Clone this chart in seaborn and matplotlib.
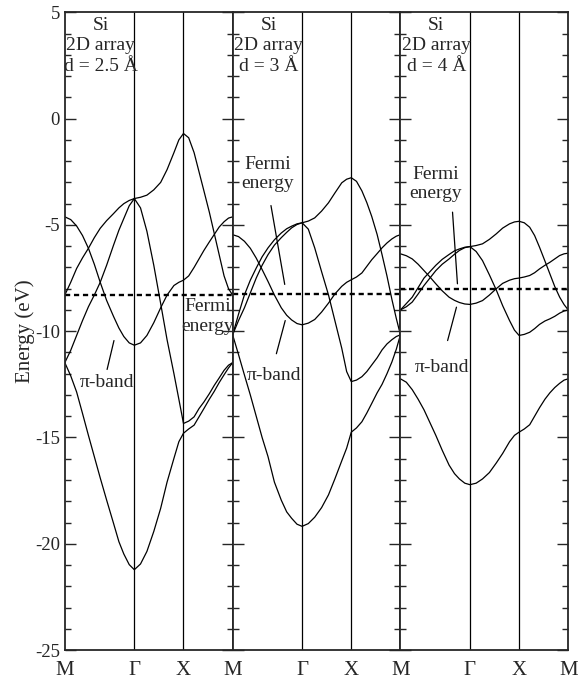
import pandas as pd
import seaborn as sns
import matplotlib.pyplot as plt
from matplotlib.ticker import MultipleLocator

# k-path along M - Gamma - X - M (square lattice, units of pi/a)
k_path = [0, 0.12, 0.24, 0.36, 0.48, 0.6, 0.72, 0.85, 0.99, 1.1, 1.2, 1.31, 1.414,
          1.54, 1.67, 1.81, 1.95, 2.08, 2.22, 2.32, 2.414,
          2.52, 2.63, 2.73, 2.83, 2.94, 3.04, 3.14, 3.24, 3.33, 3.414]
sym_pos = [0, 1.414, 2.414, 3.414]
sym_labels = ['M', 'Γ', 'X', 'M']

# d = 2.5 A
d25_pi = [-4.62, -4.75, -5.05, -5.5, -6.1, -6.85, -7.7, -8.55, -9.3, -9.85, -10.25, -10.55, -10.66,
          -10.55, -10.2, -9.6, -8.9, -8.3, -7.85, -7.7, -7.6,
          -7.4, -7.0, -6.6, -6.2, -5.8, -5.45, -5.1, -4.85, -4.68, -4.62]
d25_up = [-8.3, -7.7, -7.05, -6.55, -6.1, -5.6, -5.16, -4.8, -4.47, -4.2, -4.0, -3.85, -3.76,
          -3.7, -3.6, -3.35, -3.0, -2.4, -1.6, -1.0, -0.7,
          -0.9, -1.6, -2.5, -3.4, -4.4, -5.4, -6.4, -7.4, -8.0, -8.3]
d25_st = [-11.48, -10.9, -10.2, -9.5, -8.85, -8.3, -7.7, -6.9, -5.96, -5.25, -4.7, -4.1, -3.76,
          -4.2, -5.3, -6.9, -8.7, -10.4, -12.0, -13.2, -14.34,
          -14.23, -14.03, -13.64, -13.33, -12.94, -12.55, -12.2, -11.84, -11.6, -11.48]
d25_lo = [-11.48, -12.1, -12.86, -13.87, -14.9, -15.9, -16.9, -17.94, -19.03, -19.9, -20.48, -20.98, -21.22,
          -20.95, -20.36, -19.42, -18.33, -17.1, -15.98, -15.2, -14.8,
          -14.6, -14.42, -14.03, -13.64, -13.2, -12.83, -12.42, -12.05, -11.73, -11.48]

# d = 3 A
d3_pi = [-5.46, -5.55, -5.77, -6.1, -6.56, -7.1, -7.66, -8.3, -8.9, -9.25, -9.47, -9.64, -9.7,
         -9.62, -9.45, -9.1, -8.68, -8.25, -7.89, -7.7, -7.58,
         -7.45, -7.26, -6.95, -6.64, -6.35, -6.08, -5.85, -5.66, -5.53, -5.46]
d3_up = [-10.17, -9.2, -8.29, -7.6, -7.03, -6.5, -6.08, -5.7, -5.38, -5.18, -5.06, -4.95, -4.9,
         -4.82, -4.67, -4.35, -3.96, -3.5, -3.02, -2.85, -2.78,
         -2.95, -3.4, -3.95, -4.6, -5.45, -6.4, -7.4, -8.5, -9.4, -10.17]
d3_st = [-10.17, -9.5, -8.9, -8.2, -7.5, -6.9, -6.4, -5.95, -5.6, -5.35, -5.14, -4.98, -4.9,
         -5.2, -6.08, -7.2, -8.29, -9.5, -10.8, -11.9, -12.37,
         -12.3, -12.14, -11.9, -11.59, -11.25, -10.88, -10.6, -10.4, -10.25, -10.17]
d3_lo = [-10.17, -11.1, -12.06, -13.0, -14.0, -15.0, -15.9, -17.1, -17.95, -18.5, -18.8, -19.08, -19.18,
         -19.05, -18.75, -18.3, -17.7, -16.95, -16.1, -15.5, -14.75,
         -14.55, -14.26, -13.85, -13.4, -12.9, -12.5, -12.0, -11.45, -10.85, -10.17]

# d = 4 A
d4_pi = [-6.36, -6.45, -6.6, -6.85, -7.15, -7.45, -7.77, -8.1, -8.4, -8.55, -8.65, -8.72, -8.74,
         -8.68, -8.56, -8.3, -8.0, -7.75, -7.6, -7.53, -7.5,
         -7.45, -7.38, -7.25, -7.07, -6.9, -6.76, -6.6, -6.44, -6.36, -6.33]
d4_up = [-9.0, -8.7, -8.4, -7.95, -7.5, -7.2, -6.9, -6.62, -6.39, -6.22, -6.13, -6.05, -6.02,
         -5.97, -5.89, -5.68, -5.42, -5.15, -4.95, -4.86, -4.83,
         -4.9, -5.11, -5.5, -6.05, -6.7, -7.3, -7.9, -8.4, -8.75, -9.0]
d4_st = [-9.0, -8.85, -8.63, -8.25, -7.85, -7.5, -7.15, -6.85, -6.6, -6.38, -6.2, -6.07, -6.02,
         -6.25, -6.68, -7.35, -8.06, -8.8, -9.5, -9.95, -10.2,
         -10.15, -10.05, -9.88, -9.68, -9.52, -9.42, -9.3, -9.15, -9.05, -9.0]
d4_lo = [-12.24, -12.4, -12.75, -13.2, -13.7, -14.3, -14.9, -15.6, -16.3, -16.7, -16.95, -17.15, -17.22,
         -17.15, -16.95, -16.65, -16.2, -15.75, -15.2, -14.9, -14.75,
         -14.6, -14.4, -14.0, -13.6, -13.2, -12.9, -12.65, -12.45, -12.3, -12.24]

panel_bands = [
    [d25_pi, d25_up, d25_st, d25_lo],
    [d3_pi, d3_up, d3_st, d3_lo],
    [d4_pi, d4_up, d4_st, d4_lo],
]
fermi = [-8.3, -8.25, -8.0]
spacing = ['d = 2.5 Å', 'd = 3 Å', 'd = 4 Å']

# annotation positions (k, E baseline of "Fermi", E baseline of "energy")
fermi_text = [(2.91, -9.03, -9.97), (0.72, -2.35, -3.27), (0.72, -2.82, -3.72)]
fermi_ptr = [None, [(0.78, -4.09), (1.06, -7.8)], [(1.06, -4.4), (1.16, -7.77)]]
pi_text = [(0.86, -12.42), (0.85, -12.08), (0.85, -11.69)]
pi_ptr = [[(0.86, -11.8), (1.0, -10.44)], [(0.89, -11.06), (1.07, -9.5)], [(0.96, -10.44), (1.14, -8.87)]]

rows = []
for p, bands in enumerate(panel_bands):
    for b, energies in enumerate(bands):
        for k, e in zip(k_path, energies):
            rows.append({'panel': p, 'band': b, 'k': k, 'E': e})
df = pd.DataFrame(rows)

sns.set_style('ticks')
plt.rcParams['font.family'] = ['Liberation Serif', 'DejaVu Serif']
plt.rcParams['axes.unicode_minus'] = False

fig, axes = plt.subplots(1, 3, figsize=(5.84, 6.85), dpi=100, sharey=True)
plt.subplots_adjust(left=0.111, right=0.973, top=0.982, bottom=0.051, wspace=0)

fs = 14
for p, ax in enumerate(axes):
    sub = df[df['panel'] == p]
    sns.lineplot(data=sub, x='k', y='E', units='band', estimator=None, sort=False,
                 color='black', lw=0.9, ax=ax)
    for k in sym_pos[1:3]:
        ax.axvline(k, color='black', lw=0.9)
    ax.axhline(fermi[p], color='black', lw=1.7, ls=(0, (2.2, 1.6)))

    ax.set_xlim(0, 3.414)
    ax.set_ylim(-25, 5)
    ax.set_xticks(sym_pos)
    ax.set_xticklabels(sym_labels if p == 0 else [''] + sym_labels[1:], fontsize=15)
    ax.tick_params(axis='x', length=0, pad=8)
    ax.yaxis.set_major_locator(MultipleLocator(5))
    ax.yaxis.set_minor_locator(MultipleLocator(1))
    ax.tick_params(axis='y', which='both', direction='in', left=True, right=True,
                   labelsize=13.5, width=1)
    ax.tick_params(axis='y', which='major', length=8)
    ax.tick_params(axis='y', which='minor', length=4.5)
    for s in ax.spines.values():
        s.set_linewidth(1.3)
    ax.set_xlabel('')
    ax.set_ylabel('')

    ax.text(0.73, 4.17, 'Si', ha='center', va='baseline', fontsize=fs)
    ax.text(0.73, 3.23, '2D array', ha='center', va='baseline', fontsize=fs)
    ax.text(0.73, 2.26, spacing[p], ha='center', va='baseline', fontsize=fs)

    fx, fy1, fy2 = fermi_text[p]
    ax.text(fx, fy1, 'Fermi', ha='center', va='baseline', fontsize=fs, clip_on=False)
    ax.text(fx, fy2, 'energy', ha='center', va='baseline', fontsize=fs, clip_on=False)
    if fermi_ptr[p] is not None:
        (x0, y0), (x1, y1) = fermi_ptr[p]
        ax.plot([x0, x1], [y0, y1], color='black', lw=0.9)

    px, py = pi_text[p]
    ax.text(px, py, 'π-band', ha='center', va='center', fontsize=fs)
    (x0, y0), (x1, y1) = pi_ptr[p]
    ax.plot([x0, x1], [y0, y1], color='black', lw=0.9)

axes[0].set_ylabel('Energy (eV)', fontsize=15)
axes[0].yaxis.set_label_coords(-0.18, 0.5)

plt.savefig('out.png', dpi=100)
